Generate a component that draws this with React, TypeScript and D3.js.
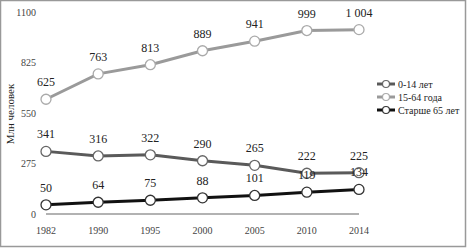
import React from "react";
import * as d3 from "d3";

const years = ["1982", "1990", "1995", "2000", "2005", "2010", "2014"];
const age0to14 = [341, 316, 322, 290, 265, 222, 225];
const age15to64 = [625, 763, 813, 889, 941, 999, 1004];
const age65plus = [50, 64, 75, 88, 101, 119, 134];
const yTicks = [0, 275, 550, 825, 1100];
const seriesNames = ["0-14 лет", "15-64 года", "Старше 65 лет"];
const seriesColors = ["#5a5a5a", "#9a9a9a", "#111111"];
const markerStroke = ["#666", "#aaa", "#333"];

const W = 467, H = 248;

export default function App() {
  const x = d3.scalePoint<string>().domain(years).range([46, 359]).padding(0);
  const y = d3.scaleLinear().domain([0, 1100]).range([214, 12]);
  const series = [age0to14, age15to64, age65plus];
  const line = d3.line<number>().x((_, i) => x(years[i])!).y((d) => y(d));
  const fmt = (v: number) => (v >= 1000 ? d3.format(",")(v).replace(",", " ") : String(v));
  const ff = { fontFamily: "'Liberation Serif', 'Times New Roman', 'DejaVu Serif', serif" };

  return (
    <svg width={W} height={H} style={{ position: "absolute", left: 0, top: 0, background: "#fff" }}>
      <rect x={0.5} y={0.5} width={465} height={246} fill="#fff" stroke="#999" strokeWidth={1.5} />
      {yTicks.map((t) => (
        <text key={t} style={ff} x={36} y={y(t)} dy="0.35em" textAnchor="end" fontSize={10} fill="#444">{t}</text>
      ))}
      <text style={ff} transform={`translate(10,114) rotate(-90)`} textAnchor="middle" dy="0.35em" fontSize={11} fill="#222">Млн человек</text>
      <line x1={x(years[0])} x2={x(years[years.length - 1])} y1={y(0)} y2={y(0)} stroke="#666" strokeWidth={1.2} />
      {years.map((yr) => (
        <text key={yr} style={ff} x={x(yr)} y={230} dy="0.35em" textAnchor="middle" fontSize={10} fill="#444">{yr}</text>
      ))}
      {series.map((s, si) => (
        <g key={si}>
          <path d={line(s)!} fill="none" stroke={seriesColors[si]} strokeWidth={3} />
          {s.map((v, i) => (
            <circle key={i} cx={x(years[i])} cy={y(v)} r={5} fill="#fff" stroke={markerStroke[si]} strokeWidth={1.3} />
          ))}
          {s.map((v, i) => (
            <text key={"t" + i} style={ff} x={x(years[i])} y={y(v) - 13} textAnchor="middle" fontSize={12} fill="#222">{fmt(v)}</text>
          ))}
        </g>
      ))}
      {seriesNames.map((n, i) => (
        <g key={n} transform={`translate(0,${84 + i * 13})`}>
          <line x1={377} x2={395} y1={0} y2={0} stroke={seriesColors[i]} strokeWidth={3} />
          <circle cx={386} cy={0} r={3.5} fill="#fff" stroke={markerStroke[i]} strokeWidth={1.2} />
          <text style={ff} x={398} y={0} dy="0.35em" fontSize={10} fill="#222">{n}</text>
        </g>
      ))}
    </svg>
  );
}
